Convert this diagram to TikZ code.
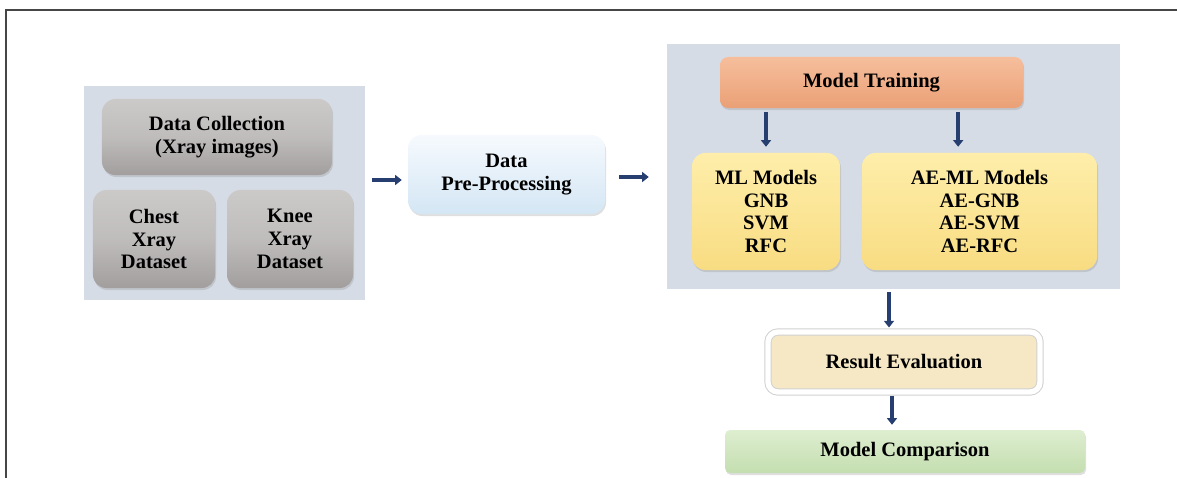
\documentclass[tikz,border=0pt]{standalone}
\usepackage{fontspec}
\setmainfont{Liberation Serif}
\usepackage{tikz}
\usetikzlibrary{positioning,arrows.meta,calc,shadows}
\usepackage{xcolor}
\definecolor{panelbg}{RGB}{214,220,229}
\definecolor{frameln}{RGB}{70,70,70}
\definecolor{arblue}{RGB}{38,62,112}
\definecolor{greytop}{RGB}{204,201,201}
\definecolor{greybot}{RGB}{162,158,158}
\definecolor{bluetop}{RGB}{246,250,254}
\definecolor{bluebot}{RGB}{212,230,244}
\definecolor{orangetop}{RGB}{246,190,156}
\definecolor{orangebot}{RGB}{234,160,118}
\definecolor{yellowtop}{RGB}{254,238,170}
\definecolor{yellowbot}{RGB}{248,220,130}
\definecolor{beige}{RGB}{246,232,196}
\definecolor{greentop}{RGB}{222,238,208}
\definecolor{greenbot}{RGB}{196,222,176}

\begin{document}
\begin{tikzpicture}[
  x=0.03cm, y=-0.03cm,
  panel/.style={fill=panelbg, draw=none, inner sep=0pt},
  bx/.style={rounded corners=0.4cm, inner sep=0pt, align=center,
    font=\fontsize{17.5}{19.6}\selectfont\bfseries,
    drop shadow={opacity=0.25, shadow xshift=0.03cm, shadow yshift=-0.06cm}},
  greybx/.style={bx, top color=greytop, bottom color=greybot, middle color=greytop!70!greybot},
  ar/.style={-{Triangle[length=0.2cm, width=0.3cm]}, line width=0.12cm, color=arblue}
]
\useasboundingbox (0,0) rectangle (1177,478);
\draw[frameln, line width=0.06cm] (6,478) -- (6,10) -- (1177,10);

% left panel
\node[panel, minimum width=8.43cm, minimum height=6.42cm] (lp) at (224.5,193) {};
\node[greybx, minimum width=6.9cm, minimum height=2.28cm] (coll) at (217,137) {Data Collection\\(Xray images)};
\node[greybx, minimum width=3.66cm, minimum height=2.94cm] (chest) at (154,239) {Chest\\Xray\\Dataset};
\node[greybx, minimum width=3.78cm, minimum height=2.94cm] (knee) at (290,239) {Knee\\Xray\\Dataset};

\node[bx, top color=bluetop, bottom color=bluebot, minimum width=5.91cm, minimum height=2.37cm] (pre) at (506.5,174.5) {Data\\Pre-Processing};

% right panel
\node[panel, minimum width=13.59cm, minimum height=7.35cm] (rp) at (893.5,166.5) {};
\node[bx, rounded corners=0.25cm, top color=orangetop, bottom color=orangebot, minimum width=9.09cm, minimum height=1.53cm] (train) at (871.5,82.5) {Model Training};
\node[bx, top color=yellowtop, bottom color=yellowbot, minimum width=4.44cm, minimum height=3.51cm] (ml) at (766,211.5) {ML Models\\GNB\\SVM\\RFC};
\node[bx, top color=yellowtop, bottom color=yellowbot, minimum width=7.05cm, minimum height=3.51cm] (ae) at (979.5,211.5) {AE-ML Models\\AE-GNB\\AE-SVM\\AE-RFC};

\node[bx, rounded corners=0.3cm, fill=beige, draw=black!18, double=white, double distance=0.16cm, line width=0.03cm, minimum width=8.16cm, minimum height=1.8cm] (res) at (904,362) {Result Evaluation};
\node[bx, rounded corners=0.15cm, top color=greentop, bottom color=greenbot, minimum width=10.8cm, minimum height=1.29cm] (comp) at (905,451.5) {Model Comparison};

\draw[ar, shorten <=0.21cm, shorten >=0.18cm] (lp.east |- 0,180) -- (pre.west |- 0,180);
\draw[ar, shorten <=0.42cm, shorten >=0.54cm] (pre.east |- 0,177) -- (rp.west |- 0,177);
\draw[ar, shorten <=0.12cm, shorten >=0.18cm] (ml.north |- train.south) -- (ml.north);
\draw[ar, shorten <=0.12cm, shorten >=0.18cm] ([xshift=-0.64cm]ae.north |- train.south) -- ([xshift=-0.64cm]ae.north);
\draw[ar, shorten <=0.09cm, shorten >=0.12cm] ([xshift=-0.45cm]res.north |- rp.south) -- ([xshift=-0.45cm]res.north);
\draw[ar, shorten <=0.09cm, shorten >=0.15cm] ([xshift=-0.36cm]res.south) -- ([xshift=-0.36cm]res.south |- comp.north);
\end{tikzpicture}
\end{document}
